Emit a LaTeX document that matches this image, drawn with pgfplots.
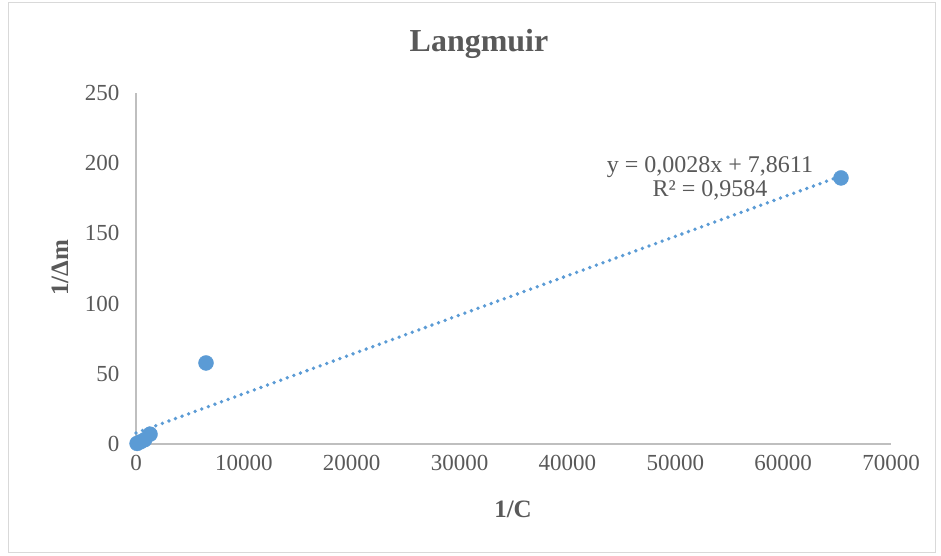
\documentclass[border=0pt]{standalone}
\usepackage{pgfplots}
\pgfplotsset{compat=1.18}
\usepackage{fontspec}
\setmainfont{Liberation Serif}
\definecolor{ptblue}{HTML}{5B9BD5}
\definecolor{txtgray}{HTML}{595959}
\definecolor{axgray}{HTML}{BFBFBF}
\definecolor{frgray}{HTML}{D9D9D9}
\begin{document}
\begin{tikzpicture}[x=1pt,y=1pt]
  \path[use as bounding box] (0,0) rectangle (941,556);
  \draw[frgray, line width=1pt] (8,3) rectangle (935,553);
  \node[font=\fontsize{32}{32}\selectfont\bfseries, text=txtgray, anchor=base] at (479,504) {Langmuir};
  \node[font=\fontsize{25}{25}\selectfont\bfseries, text=txtgray, anchor=base] at (513,38) {1/C};
  \node[font=\fontsize{25}{25}\selectfont\bfseries, text=txtgray, anchor=base, rotate=90] at (68,288) {1/Δm};
  \begin{axis}[
    at={(136pt,112pt)}, anchor=south west,
    scale only axis, width=755pt, height=351pt,
    xmin=0, xmax=70000, ymin=0, ymax=250,
    xtick={0,10000,...,70000}, ytick={0,50,...,250},
    scaled x ticks=false,
    xticklabel style={/pgf/number format/1000 sep={}, yshift=-8pt},
    yticklabel style={xshift=-13pt},
    /pgf/number format/assume math mode=true,
    tick label style={font=\fontsize{23}{23}\selectfont, text=txtgray},
    major tick length=0pt,
    axis x line*=bottom, axis y line*=left,
    axis line style={axgray, line width=1.3pt, -},
    clip=false,
  ]
    \addplot[ptblue, line width=3.8pt, line cap=round, dash pattern=on 0pt off 7pt]
      coordinates {(0,7.8611) (65364,190.88)};
    \addplot[only marks, mark=*, mark size=7.5pt, mark options={fill=ptblue, draw=ptblue}]
      coordinates {(100,0.4) (400,1.5) (800,3.0) (1300,7.0) (6490,57.7) (65364,189.5)};
    \node[font=\fontsize{24}{24}\selectfont, text=txtgray, align=center]
      at (axis cs:53218,189.5) {y = 0,0028x + 7,8611\\R² = 0,9584};
  \end{axis}
\end{tikzpicture}
\end{document}
